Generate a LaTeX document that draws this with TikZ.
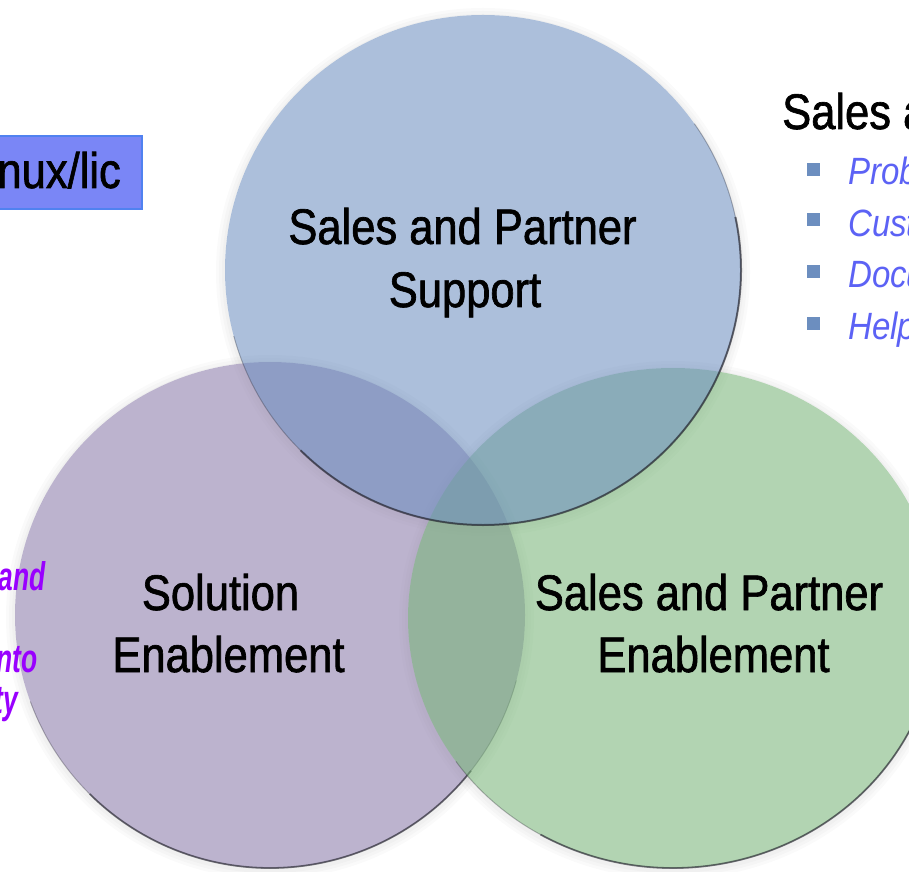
\documentclass[tikz,border=0pt]{standalone}
\usepackage{fontspec}
\setmainfont{Liberation Sans}
\newfontfamily\cf[FakeStretch=0.87,FakeBold=1.3]{Liberation Sans}
\newfontfamily\cfi[FakeStretch=0.87]{Liberation Sans}
\newfontfamily\cfn[FakeStretch=0.66]{Liberation Sans}
\definecolor{blueC}{RGB}{107,141,191}
\definecolor{purpleC}{RGB}{137,121,168}
\definecolor{greenC}{RGB}{118,180,118}
\definecolor{boxfill}{RGB}{122,134,246}
\definecolor{boxline}{RGB}{80,130,240}
\definecolor{bultxt}{RGB}{92,98,245}
\definecolor{bulsq}{RGB}{108,142,191}
\definecolor{violettxt}{RGB}{153,0,255}
\definecolor{rim}{RGB}{30,30,40}
\tikzset{
  disc/.style={fill opacity=0.56},
  halo/.style={fill=black, fill opacity=0.02, even odd rule},
  bigtxt/.style={inner sep=0pt, anchor=base, font=\cf\fontsize{50}{60}\selectfont},
  bultext/.style={inner sep=0pt, anchor=base west, text=bultxt, font=\cfi\itshape\fontsize{38}{44}\selectfont},
  sidetxt/.style={inner sep=0pt, anchor=base east, text=violettxt, font=\cfn\bfseries\itshape\fontsize{40}{46}\selectfont},
  bulsquare/.style={fill=bulsq, minimum size=13pt, inner sep=0pt},
}
\begin{document}
\begin{tikzpicture}[x=1pt,y=1pt]
\useasboundingbox (0,0) rectangle (909,871);
\fill[white] (0,0) rectangle (909,871);
\clip (0,0) rectangle (909,871);

% soft halos
\foreach \k in {3,6,9} {
  \fill[halo] (270,254) ellipse [x radius=255pt+\k pt, y radius=253pt+\k pt] (270,256) ellipse [x radius=255pt, y radius=253pt];
  \fill[halo] (673,251) ellipse [x radius=265pt+\k pt, y radius=250pt+\k pt] (673,253) ellipse [x radius=265pt, y radius=250pt];
  \fill[halo] (483,599) ellipse [x radius=258pt+\k pt, y radius=255pt+\k pt] (483,601) ellipse [x radius=258pt, y radius=255pt];
}

% purple disc
\fill[purpleC, disc] (270,256) ellipse [x radius=255pt, y radius=253pt];
\draw[rim, line width=1pt, opacity=0.3] (270,256) ++(200:255pt and 253pt) arc[start angle=200, end angle=345, x radius=255pt, y radius=253pt];
\draw[rim, line width=1.8pt, opacity=0.55] (270,256) ++(225:255pt and 253pt) arc[start angle=225, end angle=322, x radius=255pt, y radius=253pt];

% green disc
\fill[greenC, disc] (673,253) ellipse [x radius=265pt, y radius=250pt];
\draw[rim, line width=1pt, opacity=0.3] (673,253) ++(215:265pt and 250pt) arc[start angle=215, end angle=370, x radius=265pt, y radius=250pt];
\draw[rim, line width=1.8pt, opacity=0.55] (673,253) ++(240:265pt and 250pt) arc[start angle=240, end angle=360, x radius=265pt, y radius=250pt];

% blue disc
\fill[blueC, disc] (483,601) ellipse [x radius=258pt, y radius=255pt];
\draw[rim, line width=1pt, opacity=0.3] (483,601) ++(195:258pt and 255pt) arc[start angle=195, end angle=395, x radius=258pt, y radius=255pt];
\draw[rim, line width=2pt, opacity=0.6] (483,601) ++(225:258pt and 255pt) arc[start angle=225, end angle=372, x radius=258pt, y radius=255pt];

% circle labels
\node[bigtxt] (sps1) at (462.5,627) {Sales and Partner};
\node[bigtxt] (sps2) at (465,564) {Support};
\node[bigtxt] (se1) at (220.5,261) {Solution};
\node[bigtxt] (se2) at (228.5,199) {Enablement};
\node[bigtxt] (spe1) at (709,261) {Sales and Partner};
\node[bigtxt] (spe2) at (713.5,199) {Enablement};

% top-left box
\node[draw=boxline, fill=boxfill, line width=1.2pt, minimum width=160pt, minimum height=73pt, inner sep=0pt] (lbox) at (62,698.5) {};
\node[inner sep=0pt, anchor=base east, font=\cf\fontsize{50}{60}\selectfont] (ltext) at (121,683) {nux/lic};

% right heading and bullets
\node[inner sep=0pt, anchor=base west, font=\cf\fontsize{50}{60}\selectfont] (rhead) at (782,742) {Sales a};
\node[bulsquare] (b1) at (813.5,701.5) {};
\node[bulsquare] (b2) at (813.5,651) {};
\node[bulsquare] (b3) at (813.5,599.5) {};
\node[bulsquare] (b4) at (813.5,547.5) {};
\node[bultext] (t1) at (848,686) {Prob};
\node[bultext] (t2) at (848,634) {Cust};
\node[bultext] (t3) at (848,583) {Docu};
\node[bultext] (t4) at (848,531) {Help};

% left purple fragments
\node[sidetxt] (p1) at (46,281) {and};
\node[sidetxt] (p2) at (38,199) {nto};
\node[sidetxt] (p3) at (18,158) {ty};
\end{tikzpicture}
\end{document}
